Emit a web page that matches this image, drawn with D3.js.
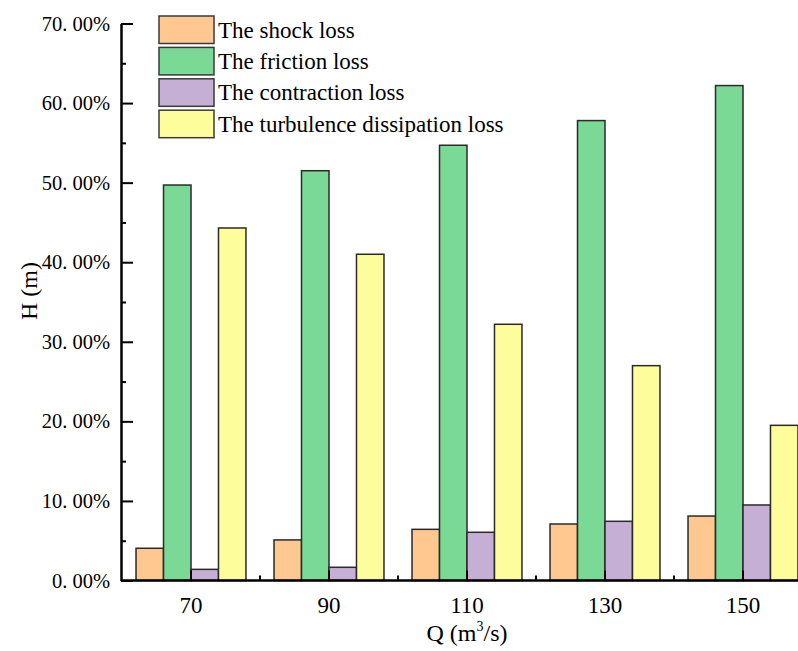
<!DOCTYPE html>
<html>
<head>
<meta charset="utf-8">
<script src="https://cdn.jsdelivr.net/npm/d3@7/dist/d3.min.js"></script>
<style>
  html, body { margin: 0; padding: 0; background: #fff; }
  svg { display: block; font-family: "Liberation Serif", "DejaVu Serif", serif; }
</style>
</head>
<body>
<svg id="chart" width="798" height="651"></svg>
<script>
// Flow rates (m^3/s) on the x axis
const categories = ["70", "90", "110", "130", "150"];

// Share of head loss per component (%)
const shockLoss       = [4.05, 5.10, 6.43, 7.10, 8.10];
const frictionLoss    = [49.7, 51.5, 54.7, 57.8, 62.2];
const contractionLoss = [1.40, 1.66, 6.06, 7.44, 9.49];
const turbulenceLoss  = [44.3, 41.0, 32.2, 27.0, 19.5];

const seriesNames = [
  "The shock loss",
  "The friction loss",
  "The contraction loss",
  "The turbulence dissipation loss"
];
const seriesValues = [shockLoss, frictionLoss, contractionLoss, turbulenceLoss];
const seriesColors = ["#FEC890", "#7BD996", "#C6AFD4", "#FEFD9B"];

const yMajorTicks = [0, 10, 20, 30, 40, 50, 60, 70];
const yMinorTicks = [5, 15, 25, 35, 45, 55, 65];

const svg = d3.select("#chart");

const plotLeft = 121, plotBottom = 580.5, plotTop = 23.5;

const x = d3.scaleBand().domain(categories).range([122, 812]).padding(0);
const xSub = d3.scaleBand().domain(d3.range(seriesNames.length))
  .range([0, x.bandwidth()]).paddingInner(0).paddingOuter(0.51);
const y = d3.scaleLinear().domain([0, 70]).range([plotBottom, plotTop]);

// Bars
const groups = svg.append("g").selectAll("g")
  .data(categories)
  .join("g")
  .attr("transform", c => `translate(${x(c)},0)`);

groups.selectAll("rect")
  .data((c, i) => seriesValues.map((vals, s) => ({ s, v: vals[i] })))
  .join("rect")
  .attr("x", d => xSub(d.s))
  .attr("width", xSub.bandwidth())
  .attr("y", d => y(d.v))
  .attr("height", d => y(0) - y(d.v))
  .attr("fill", d => seriesColors[d.s])
  .attr("stroke", "#2a2a2a")
  .attr("stroke-width", 1.5);

// X axis: major ticks at group centres, minor ticks between groups
const xAxis = svg.append("g")
  .attr("transform", `translate(0,${plotBottom})`)
  .call(d3.axisBottom(x).tickSize(-10).tickSizeOuter(0).tickPadding(16));
xAxis.select(".domain").attr("stroke", "#000").attr("stroke-width", 2.5)
  .attr("d", `M${plotLeft},0H812`);
xAxis.selectAll(".tick line").attr("stroke", "#000").attr("stroke-width", 2);
xAxis.selectAll(".tick text")
  .attr("font-family", "Liberation Serif, serif")
  .attr("font-size", 23)
  .attr("fill", "#000");

svg.append("g").selectAll("line")
  .data(categories.slice(1))
  .join("line")
  .attr("x1", c => x(c)).attr("x2", c => x(c))
  .attr("y1", plotBottom).attr("y2", plotBottom - 5)
  .attr("stroke", "#000").attr("stroke-width", 2);

// Y axis: labelled major ticks and minor ticks, both pointing inward
const yAxis = svg.append("g")
  .attr("transform", `translate(${plotLeft},0)`)
  .call(d3.axisLeft(y).tickValues(yMajorTicks).tickSize(-12).tickSizeOuter(0).tickPadding(11)
    .tickFormat(d => d.toFixed(2).replace(".", ". ") + "%"));
yAxis.select(".domain").attr("stroke", "#000").attr("stroke-width", 2.5);
yAxis.selectAll(".tick line").attr("stroke", "#000").attr("stroke-width", 2);
yAxis.selectAll(".tick text")
  .attr("font-family", "Liberation Serif, serif")
  .attr("font-size", 20.5)
  .attr("fill", "#000");

const yMinor = svg.append("g")
  .attr("transform", `translate(${plotLeft},0)`)
  .call(d3.axisLeft(y).tickValues(yMinorTicks).tickSize(-5).tickSizeOuter(0).tickFormat(""));
yMinor.select(".domain").remove();
yMinor.selectAll(".tick line").attr("stroke", "#000").attr("stroke-width", 2);

// Axis titles
svg.append("text")
  .attr("transform", "translate(37,291) rotate(-90)")
  .attr("text-anchor", "middle")
  .attr("font-size", 24)
  .attr("fill", "#000")
  .text("H (m)");

const xTitle = svg.append("text")
  .attr("x", 467)
  .attr("y", 641)
  .attr("text-anchor", "middle")
  .attr("font-size", 24)
  .attr("fill", "#000");
xTitle.append("tspan").text("Q (m");
xTitle.append("tspan").attr("font-size", 14).attr("dy", -10).text("3");
xTitle.append("tspan").attr("dy", 10).text("/s)");

// Legend
const legend = svg.append("g").attr("transform", "translate(159,16)");
const item = legend.selectAll("g")
  .data(seriesNames)
  .join("g")
  .attr("transform", (d, i) => `translate(0,${i * 31.4})`);
item.append("rect")
  .attr("width", 55).attr("height", 27.5)
  .attr("fill", (d, i) => seriesColors[i])
  .attr("stroke", "#3a3a3a").attr("stroke-width", 1.5);
item.append("text")
  .attr("x", 59).attr("y", 21.5)
  .attr("font-size", 23)
  .attr("fill", "#000")
  .text(d => d);
</script>
</body>
</html>
